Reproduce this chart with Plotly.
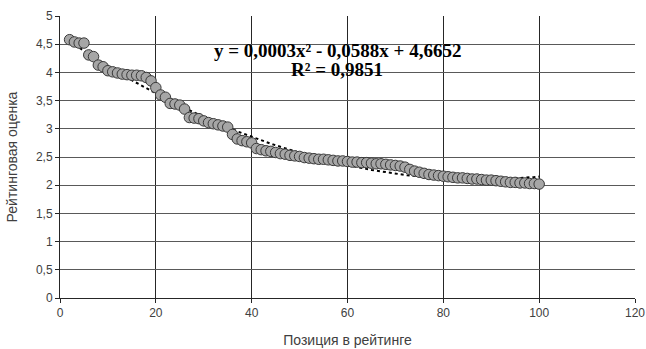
import numpy as np
import plotly.graph_objects as go

positions = list(range(2, 101))
scores = [
    4.58, 4.54, 4.52, 4.52, 4.31, 4.28, 4.13, 4.10, 4.03, 4.01,
    3.99, 3.97, 3.96, 3.95, 3.95, 3.94, 3.91, 3.85, 3.73, 3.60,
    3.56, 3.45, 3.44, 3.42, 3.35, 3.20, 3.19, 3.18, 3.14, 3.11,
    3.09, 3.07, 3.05, 3.03, 2.90, 2.82, 2.79, 2.77, 2.75, 2.65,
    2.63, 2.61, 2.60, 2.58, 2.56, 2.55, 2.53, 2.52, 2.51, 2.49,
    2.48, 2.47, 2.46, 2.46, 2.45, 2.44, 2.43, 2.43, 2.42, 2.41,
    2.41, 2.40, 2.40, 2.39, 2.38, 2.38, 2.37, 2.36, 2.35, 2.34,
    2.32, 2.28, 2.25, 2.23, 2.21, 2.19, 2.18, 2.17, 2.16, 2.15,
    2.14, 2.13, 2.13, 2.12, 2.11, 2.11, 2.10, 2.09, 2.09, 2.08,
    2.07, 2.06, 2.05, 2.05, 2.04, 2.04, 2.03, 2.03, 2.02,
]
equation_text = "y = 0,0003x² - 0,0588x + 4,6652"
r2_text = "R² = 0,9851"
x_ticks = [0, 20, 40, 60, 80, 100, 120]
y_ticks = [0, 0.5, 1, 1.5, 2, 2.5, 3, 3.5, 4, 4.5, 5]
y_tick_labels = [str(v).replace(".", ",") for v in y_ticks]

coef = np.polyfit(positions, scores, 2)
xt = np.linspace(positions[0], positions[-1], 200)
yt = np.polyval(coef, xt)

fig = go.Figure()
fig.add_trace(go.Scatter(
    x=xt, y=yt, mode="lines",
    line=dict(color="black", width=2, dash="dot"),
    hoverinfo="skip", showlegend=False,
))
fig.add_trace(go.Scatter(
    x=positions, y=scores, mode="markers",
    marker=dict(size=10.5, color="#a6a6a6", line=dict(color="#3a3a3a", width=1)),
    showlegend=False,
))

plot_l, plot_r, plot_t, plot_b = 60, 635, 16, 298
W, H = 646, 349
def px_to_domain(px, py):
    return (px - plot_l) / (plot_r - plot_l), (plot_b - py) / (plot_b - plot_t)

ex, ey = px_to_domain(337, 38)
rx, ry = px_to_domain(337, 57)
fig.add_annotation(x=ex, y=ey, xref="x domain", yref="y domain", showarrow=False,
                   text="<b>" + equation_text + "</b>",
                   font=dict(family="Liberation Serif", size=19, color="black"))
fig.add_annotation(x=rx, y=ry, xref="x domain", yref="y domain", showarrow=False,
                   text="<b>" + r2_text + "</b>",
                   font=dict(family="Liberation Serif", size=19, color="black"))

fig.update_layout(
    width=W, height=H,
    margin=dict(l=plot_l, r=W - plot_r, t=plot_t, b=H - plot_b),
    paper_bgcolor="white", plot_bgcolor="white",
    font=dict(family="Liberation Sans", size=12, color="#404040"),
)
fig.update_xaxes(
    range=[0, 120], tickvals=x_ticks, ticktext=[str(v) for v in x_ticks],
    showgrid=True, gridcolor="#262626", gridwidth=1,
    showline=True, linecolor="#262626", linewidth=1,
    ticks="outside", ticklen=4, tickcolor="#262626",
    zeroline=False, automargin=False,
    title=dict(text="Позиция в рейтинге", font=dict(size=14, color="#404040")),
)
fig.update_yaxes(
    range=[0, 5], tickvals=y_ticks, ticktext=y_tick_labels,
    showgrid=True, gridcolor="#595959", gridwidth=1,
    showline=True, linecolor="#262626", linewidth=1,
    ticks="outside", ticklen=4, tickcolor="#262626",
    zeroline=False, automargin=False,
    title=dict(text="Рейтинговая оценка", font=dict(size=14, color="#404040")),
)

fig.write_html("out.html")
